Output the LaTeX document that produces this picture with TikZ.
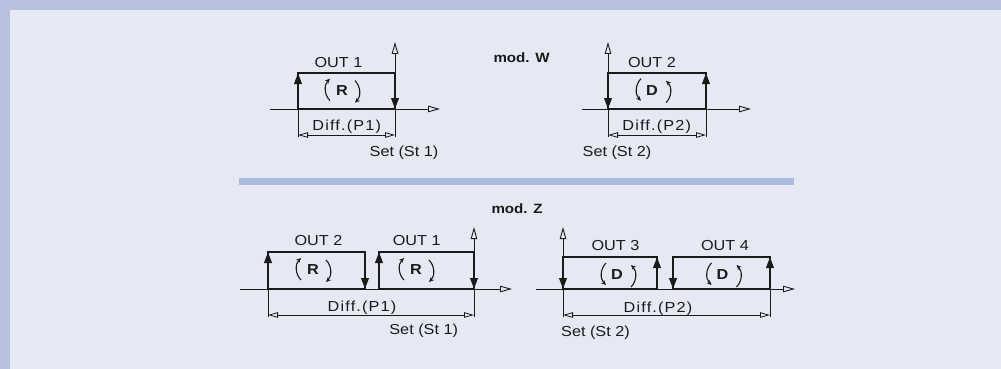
\documentclass[tikz,border=0pt]{standalone}
\usepackage{fontspec}
\setmainfont{Liberation Sans}[FakeStretch=1.12]
\newfontfamily\dimfont{Liberation Sans}[FakeStretch=1.12,LetterSpace=8]
\usetikzlibrary{arrows.meta}
\definecolor{frameblue}{HTML}{B7C1DE}
\definecolor{panel}{HTML}{E6E9F3}
\definecolor{rulebar}{HTML}{ACBBE0}
\definecolor{ink}{HTML}{1A1A1A}

\tikzset{
  rotarc/.style={draw=ink, line width=1.1pt, -{Stealth[length=5pt, width=4.5pt]}},
  cwsym/.pic={
    \draw[rotarc] (-12,10) .. controls (-18,4) and (-18,-6) .. (-12,-12);
    \draw[rotarc] (13,-10) .. controls (19,-4) and (19,6) .. (13,12);
  },
  ccwsym/.pic={
    \draw[rotarc] (-12,-12) .. controls (-18,-6) and (-18,4) .. (-12,10);
    \draw[rotarc] (13,12) .. controls (19,6) and (19,-4) .. (13,-10);
  }
}

\begin{document}
\begin{tikzpicture}[x=1pt, y=-1pt, font=\fontsize{14.5}{16}\selectfont, text=ink,
    axis/.style={draw=ink, line width=0.9pt, -{Triangle[open, length=12pt, width=6.5pt]}},
    outline/.style={draw=ink, line width=1.8pt},
    switch/.style={draw=ink, line width=2.2pt, -{Triangle[length=11pt, width=7.5pt]}},
    extline/.style={draw=ink, line width=0.8pt},
    dimline/.style={draw=ink, line width=0.8pt,
      {Triangle[open, length=10pt, width=5.5pt]}-{Triangle[open, length=10pt, width=5.5pt]}},
    outlabel/.style={anchor=base},
    difflabel/.style={anchor=base, font=\dimfont\fontsize{14.5}{16}\selectfont},
    setlabel/.style={anchor=base},
    modlabel/.style={anchor=base west, font=\bfseries\fontsize{13.5}{16}\selectfont},
    symletter/.style={font=\bfseries\fontsize{14.5}{16}\selectfont, inner sep=0pt}]
    \useasboundingbox (0,0) rectangle (1001,369);

    % Frame and panel
    \fill[frameblue] (0,0) rectangle (1001,369);
    \fill[panel] (10,10) rectangle (1001,369);
    \fill[rulebar] (239,178) rectangle (794,185);

    % mod. W, left diagram
    \draw[axis] (270,109) -- (440,109);
    \draw[axis] (395,137) -- (395,42);
    \draw[outline] (298,109) rectangle (395,73);
    \draw[switch] (298,109) -- (298,73);
    \draw[switch] (395,73) -- (395,109);
    \draw[extline] (298,109) -- (298,137);
    \draw[dimline] (298,135) -- (395,135);
    \node[outlabel] (outW1) at (338.5,67) {OUT 1};
    \node[symletter] (symW1) at (342,90.7) {R};
    \pic at (342,90.7) {cwsym};
    \node[difflabel] (diffW1) at (346.7,130.5) {Diff.(P1)};
    \node[setlabel] (setW1) at (404,156.5) {Set (St 1)};

    % mod. W, right diagram
    \draw[axis] (582,109) -- (751,109);
    \draw[axis] (608,137) -- (608,42);
    \draw[outline] (608,109) rectangle (706,73);
    \draw[switch] (608,73) -- (608,109);
    \draw[switch] (706,109) -- (706,73);
    \draw[extline] (706,109) -- (706,137);
    \draw[dimline] (608,135) -- (706,135);
    \node[outlabel] (outW2) at (652,67) {OUT 2};
    \node[symletter] (symW2) at (652,90.7) {D};
    \pic at (653,90.7) {ccwsym};
    \node[difflabel] (diffW2) at (656.7,130.5) {Diff.(P2)};
    \node[setlabel] (setW2) at (617,156.5) {Set (St 2)};
    \node[modlabel] (modW) at (490,63) {mod. W};

    % mod. Z, left diagram
    \node[modlabel] (modZ) at (488,213) {mod. Z};
    \draw[axis] (240,289) -- (512,289);
    \draw[axis] (474,317) -- (474,227);
    \draw[outline] (268,289) rectangle (365,252);
    \draw[outline] (379,289) rectangle (474,252);
    \draw[switch] (268,289) -- (268,252);
    \draw[switch] (365,252) -- (365,289);
    \draw[switch] (379,289) -- (379,252);
    \draw[switch] (474,252) -- (474,289);
    \draw[extline] (268,289) -- (268,317);
    \draw[dimline] (268,315) -- (474,315);
    \node[outlabel] (outZ2) at (318.5,245) {OUT 2};
    \node[outlabel] (outZ1) at (416.7,245) {OUT 1};
    \node[symletter] (symZ1) at (313,270) {R};
    \pic at (313,270) {cwsym};
    \node[symletter] (symZ2) at (416,270) {R};
    \pic at (416,270) {cwsym};
    \node[difflabel] (diffZ1) at (362,311.7) {Diff.(P1)};
    \node[setlabel] (setZ1) at (423.7,334) {Set (St 1)};

    % mod. Z, right diagram
    \draw[axis] (536,289) -- (795,289);
    \draw[axis] (563,317) -- (563,227);
    \draw[outline] (563,289) rectangle (657,257);
    \draw[outline] (673,289) rectangle (770,257);
    \draw[switch] (563,257) -- (563,289);
    \draw[switch] (657,289) -- (657,257);
    \draw[switch] (673,257) -- (673,289);
    \draw[switch] (770,289) -- (770,257);
    \draw[extline] (770,289) -- (770,317);
    \draw[dimline] (563,315) -- (770,315);
    \node[outlabel] (outZ3) at (615.5,250) {OUT 3};
    \node[outlabel] (outZ4) at (725,250) {OUT 4};
    \node[symletter] (symZ3) at (617,275) {D};
    \pic at (618,275) {ccwsym};
    \node[symletter] (symZ4) at (722.5,275) {D};
    \pic at (723.5,275) {ccwsym};
    \node[difflabel] (diffZ2) at (658,312.7) {Diff.(P2)};
    \node[setlabel] (setZ2) at (595.5,336) {Set (St 2)};
\end{tikzpicture}
\end{document}
